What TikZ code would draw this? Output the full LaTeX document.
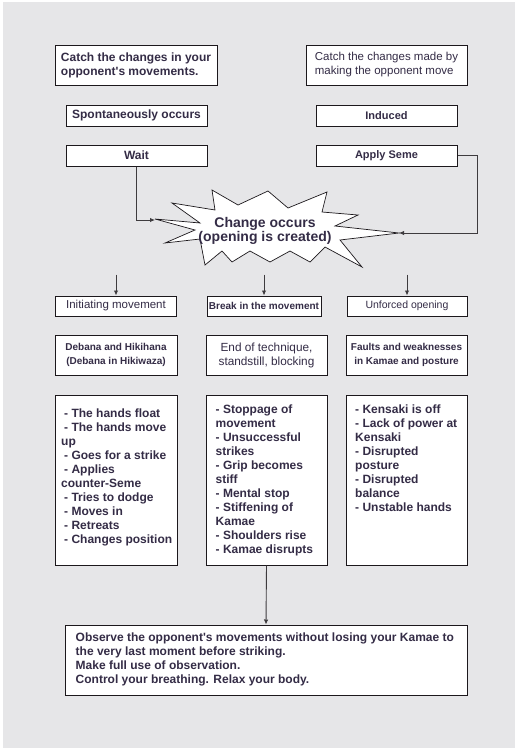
\documentclass[tikz,border=0pt]{standalone}
\usepackage{fontspec}
\setmainfont{Liberation Sans}[Ligatures=TeXOff]
\usetikzlibrary{arrows.meta}
\definecolor{bg}{RGB}{230,230,232}
\definecolor{ink}{RGB}{52,44,70}
\definecolor{edge}{RGB}{28,24,28}
\newcommand{\fs}[1]{\fontsize{#1}{14}\selectfont}
\begin{document}
\begin{tikzpicture}[x=1pt,y=-1pt,>={Latex[length=5pt,width=4.5pt]},
  box/.style={draw=edge,line width=1pt,fill=white,inner sep=0pt,text=ink,align=center},
  txt/.style={inner sep=0pt,text=ink,align=left,anchor=north west,font=\bfseries\fs{12}},
  line/.style={draw=edge!85,line width=0.9pt}]
\useasboundingbox (0,0) rectangle (517,750);
\fill[bg] (3,2) rectangle (515,748);
% top row
\node[box,minimum width=162,minimum height=40,align=left,font=\bfseries\fs{12}] (catchL) at (136,65)
  {Catch the changes in your\\opponent's movements.};
\node[box,minimum width=161,minimum height=40,align=left,font=\fs{11.5}] (catchR) at (386.5,65)
  {Catch the changes made by\\making the opponent move};
\node[box,minimum width=141,minimum height=21,font=\bfseries\fs{12}] (spont) at (136.5,115.5) {Spontaneously occurs};
\node[box,minimum width=141,minimum height=21,font=\bfseries\fs{11}] (induced) at (386.5,115.5) {Induced};
\node[box,minimum width=141,minimum height=21,font=\bfseries\fs{12}] (wait) at (136.5,155.5) {Wait};
\node[box,minimum width=141,minimum height=21,font=\bfseries\fs{11}] (seme) at (386.5,155.5) {Apply Seme};
% the burst
\draw[draw=edge,line width=0.7pt,fill=white] (155,219) -- (200,223) -- (172,203) -- (215,210)
  -- (212,190) -- (238,205) -- (268,191) -- (288,208) -- (327,192) -- (322,212)
  -- (358,215) -- (335,226) -- (399,233) -- (340,240) -- (362,267) -- (325,247)
  -- (310,262) -- (290,251) -- (270,262) -- (250,251) -- (232,262) -- (222,251)
  -- (205,265) -- (200,239) -- (165,243) -- (195,230) -- cycle;
\node[inner sep=0pt,text=ink,align=center,font=\bfseries\fontsize{14}{14.5}\selectfont] (change) at (265,231)
  {Change occurs\\(opening is created)};
\coordinate (starL) at (155,220);
\coordinate (starR) at (399,233);
\draw[line,->] (wait.south) |- (starL);
\draw[line,->] (seme.east) -- ++(20,0) |- (starR);
% three kinds
\node[box,minimum width=121,minimum height=20,font=\fs{11.5}] (init) at (116,306) {Initiating movement};
\node[box,minimum width=114,minimum height=20,font=\bfseries\fs{10}] (brk) at (264,306) {Break in the movement};
\node[box,minimum width=120,minimum height=20,font=\fs{10.5}] (unf) at (407,306) {Unforced opening};
\draw[line,->] ([yshift=21pt]init.north) -- (init.north);
\draw[line,->] ([yshift=21pt]brk.north) -- (brk.north);
\draw[line,->] ([yshift=21pt]unf.north) -- (unf.north);
\node[box,minimum width=122,minimum height=40,font=\bfseries\fs{10}] (descL) at (116,355)
  {Debana and Hikihana\\(Debana in Hikiwaza)};
\node[box,minimum width=121,minimum height=40,font=\fs{11.8}] (descM) at (266.5,355)
  {End of technique,\\standstill, blocking};
\node[box,minimum width=121,minimum height=40,font=\bfseries\fs{10}] (descR) at (406.5,355)
  {Faults and weaknesses\\in Kamae and posture};
% lists
\node[box,minimum width=122,minimum height=170] (listL) at (116,480) {};
\node[box,minimum width=121,minimum height=170] (listM) at (266.5,480) {};
\node[box,minimum width=121,minimum height=170] (listR) at (406.5,480) {};
\node[txt] (itemsL) at (61,409)
  {\hspace*{3pt}- The hands float\\\hspace*{3pt}- The hands move\\up\\\hspace*{3pt}- Goes for a strike\\
   \hspace*{3pt}- Applies\\counter-Seme\\\hspace*{3pt}- Tries to dodge\\\hspace*{3pt}- Moves in\\
   \hspace*{3pt}- Retreats\\\hspace*{3pt}- Changes position};
\node[txt] (itemsM) at (215.5,405)
  {- Stoppage of\\movement\\- Unsuccessful\\strikes\\- Grip becomes\\stiff\\- Mental stop\\
   - Stiffening of\\Kamae\\- Shoulders rise\\- Kamae disrupts};
\node[txt] (itemsR) at (355,405)
  {- Kensaki is off\\- Lack of power at\\Kensaki\\- Disrupted\\posture\\- Disrupted\\balance\\- Unstable hands};
% conclusion
\node[box,minimum width=402,minimum height=70] (final) at (266,660) {};
\node[txt] (advice) at (75.5,633)
  {Observe the opponent's movements without losing your Kamae to\\the very last moment before striking.\\
   Make full use of observation.\\Control your breathing. Relax your body.};
\draw[line,->] (listM.south) -- (final.north);
\end{tikzpicture}
\end{document}
